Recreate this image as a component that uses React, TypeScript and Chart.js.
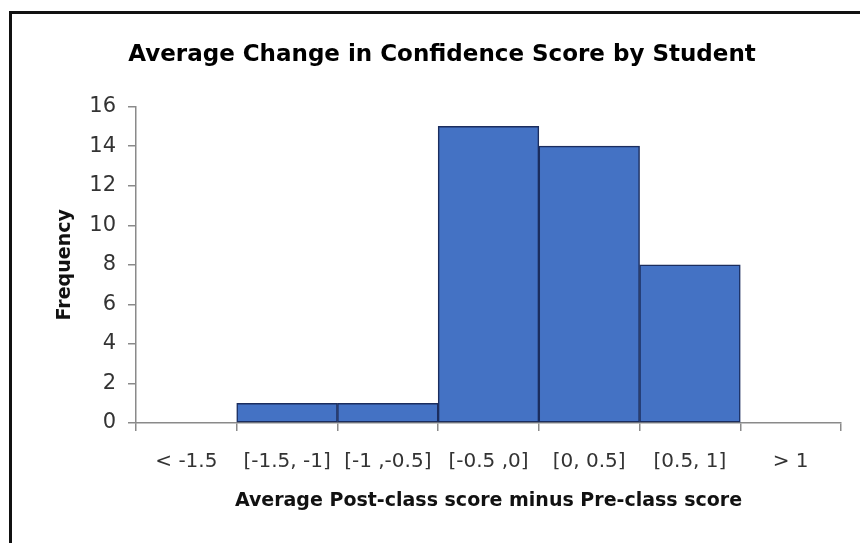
import React, { useEffect, useRef } from "react";
import { Chart, registerables } from "chart.js";

Chart.register(...registerables);

const categories = ["< -1.5", "[-1.5, -1]", "[-1 ,-0.5]", "[-0.5 ,0]", "[0, 0.5]", "[0.5, 1]", "> 1"];
const frequencies = [0, 1, 1, 15, 14, 8, 0];
const yMin = 0;
const yMax = 16;
const yStep = 2;
const chartTitle = "Average Change in Confidence Score by Student";
const xTitle = "Average Post-class score minus Pre-class score";
const yTitle = "Frequency";

const FONT = "'DejaVu Sans', sans-serif";

export default function App() {
  const ref = useRef<HTMLCanvasElement>(null);

  useEffect(() => {
    if (!ref.current) return;
    const chart = new Chart(ref.current, {
      type: "bar",
      data: {
        labels: categories,
        datasets: [
          {
            data: frequencies,
            backgroundColor: "#4472C4",
            borderColor: "#1b2d5e",
            borderWidth: 1.5,
            borderSkipped: false,
            categoryPercentage: 1,
            barPercentage: 1,
          },
        ],
      },
      options: {
        responsive: false,
        animation: false,
        devicePixelRatio: 1,
        layout: { padding: { left: 43, right: 19, top: 0, bottom: 0 } },
        plugins: {
          legend: { display: false },
          tooltip: { enabled: false },
          title: {
            display: true,
            text: chartTitle,
            color: "#000",
            font: { family: FONT, size: 23, weight: "bold", lineHeight: 1.2 },
            padding: { top: 41, bottom: 38 },
          },
        },
        scales: {
          x: {
            afterFit: (s: any) => {
              s.height = 120;
            },
            grid: {
              display: true,
              offset: true,
              drawOnChartArea: false,
              drawTicks: true,
              tickLength: 8,
              color: "#8a8a8a",
              lineWidth: 1.5,
            },
            border: { display: true, color: "#8a8a8a", width: 1.5 },
            ticks: {
              color: "#333",
              padding: 19,
              maxRotation: 0,
              autoSkip: false,
              font: { family: FONT, size: 20 },
            },
            title: {
              display: true,
              text: xTitle,
              color: "#111",
              font: { family: FONT, size: 19, weight: "bold", lineHeight: 1.2 },
              padding: { top: 0, bottom: 31 },
            },
          },
          y: {
            min: yMin,
            max: yMax,
            afterFit: (s: any) => {
              s.width = 93;
            },
            grid: {
              display: true,
              drawOnChartArea: false,
              drawTicks: true,
              tickLength: 8,
              color: "#8a8a8a",
              lineWidth: 1.5,
            },
            border: { display: true, color: "#8a8a8a", width: 1.5 },
            ticks: {
              stepSize: yStep,
              color: "#333",
              padding: 12,
              font: { family: FONT, size: 21 },
            },
            title: {
              display: true,
              text: yTitle,
              color: "#111",
              font: { family: FONT, size: 19, weight: "bold", lineHeight: 1.2 },
              padding: { top: 11, bottom: 0 },
            },
          },
        },
      },
    });
    return () => chart.destroy();
  }, []);

  return (
    <div style={{ position: "fixed", left: 0, top: 0, width: 860, height: 543, background: "#fff" }}>
      <canvas ref={ref} width={860} height={543} style={{ position: "absolute", left: 0, top: 0 }} />
      <div
        style={{
          position: "absolute",
          left: 9,
          top: 11,
          right: 0,
          bottom: 0,
          borderLeft: "3px solid #111",
          borderTop: "3px solid #111",
          pointerEvents: "none",
        }}
      />
    </div>
  );
}
